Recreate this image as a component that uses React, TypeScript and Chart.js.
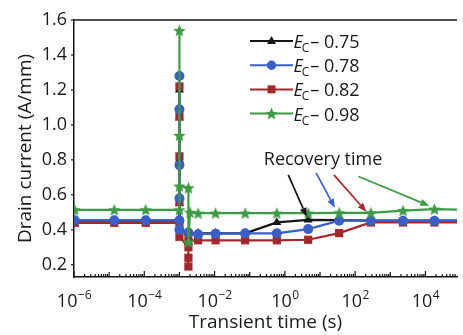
import React, { useEffect, useRef } from 'react';
import { Chart, registerables } from 'chart.js';

Chart.register(...registerables);

// ---------- data ----------
const seriesNames = ['0.75', '0.78', '0.82', '0.98'];
const seriesColors = ['#161616', '#3b5fc6', '#a3282c', '#3f9a46'];

const blackT = [1.05e-6, 1.4e-5, 1.1e-4, 1e-3, 1e-3, 1e-3, 1e-3, 1e-3, 1e-3, 1.8e-3, 3.4e-3, 1.07e-2, 7.4e-2, 0.59, 4.6, 35, 280, 2300, 1.8e4, 1.4e5];
const blackV = [0.452, 0.452, 0.452, 0.452, 1.2, 1.04, 0.8, 0.55, 0.4, 0.38, 0.38, 0.38, 0.38, 0.442, 0.457, 0.455, 0.452, 0.452, 0.452, 0.452];

const blueT = [1.05e-6, 1.4e-5, 1.1e-4, 1e-3, 1e-3, 1e-3, 1e-3, 1e-3, 1e-3, 1.8e-3, 3.4e-3, 1.07e-2, 7.4e-2, 0.59, 4.6, 35, 280, 2300, 1.8e4, 1.4e5];
const blueV = [0.455, 0.455, 0.455, 0.455, 1.28, 1.09, 0.77, 0.58, 0.4, 0.385, 0.375, 0.378, 0.38, 0.38, 0.404, 0.452, 0.452, 0.452, 0.452, 0.452];

const redT = [1.05e-6, 1.4e-5, 1.1e-4, 1e-3, 1e-3, 1e-3, 1e-3, 1e-3, 1e-3, 1.8e-3, 1.8e-3, 1.8e-3, 1.8e-3, 3.4e-3, 1.07e-2, 7.4e-2, 0.59, 4.6, 35, 280, 2300, 1.8e4, 1.4e5];
const redV = [0.44, 0.44, 0.44, 0.44, 1.22, 1.05, 0.82, 0.56, 0.36, 0.3, 0.24, 0.19, 0.34, 0.34, 0.34, 0.34, 0.34, 0.343, 0.381, 0.442, 0.442, 0.442, 0.442];

const greenT = [1.05e-6, 1.4e-5, 1.1e-4, 1e-3, 1e-3, 1e-3, 1e-3, 1.8e-3, 1.8e-3, 2.0e-3, 3.4e-3, 1.07e-2, 7.4e-2, 0.59, 4.6, 35, 280, 2300, 1.8e4, 1.4e5];
const greenV = [0.514, 0.514, 0.514, 0.514, 1.54, 0.94, 0.65, 0.64, 0.33, 0.5, 0.495, 0.495, 0.495, 0.495, 0.495, 0.497, 0.497, 0.51, 0.518, 0.515];

const xTickValues = [1e-6, 1e-4, 1e-2, 1, 1e2, 1e4];
const xTickExponents = ['\u22126', '\u22124', '\u22122', '0', '2', '4'];
const yTickValues = [0.2, 0.4, 0.6, 0.8, 1.0, 1.2, 1.4, 1.6];

const arrowStartT = [1.25, 7.8, 24.8, 124];
const arrowStartV = [0.714, 0.724, 0.714, 0.705];
const arrowEndT = [4.2, 26.5, 209, 12900];
const arrowEndV = [0.474, 0.526, 0.503, 0.537];

const noteText = 'Recovery time';
const noteT = 12.2;
const noteV = 0.8;

const xTitle = 'Transient time (s)';
const yTitle = 'Drain current (A/mm)';

// ---------- styling helpers ----------
const FONT = "'Open Sans', 'Noto Sans', sans-serif";
const TEXT = '#1a1a1a';

function makeStar(color: string, size: number) {
  const c = document.createElement('canvas');
  c.width = size;
  c.height = size;
  const ctx = c.getContext('2d')!;
  const cx = size / 2, cy = size / 2 + 0.5, R = size / 2, r = R * 0.45;
  ctx.beginPath();
  for (let i = 0; i < 10; i++) {
    const ang = -Math.PI / 2 + (i * Math.PI) / 5;
    const rad = i % 2 ? r : R;
    ctx.lineTo(cx + rad * Math.cos(ang), cy + rad * Math.sin(ang));
  }
  ctx.closePath();
  ctx.fillStyle = color;
  ctx.fill();
  return c;
}

function drawMarker(ctx: CanvasRenderingContext2D, style: any, x: number, y: number, color: string) {
  ctx.fillStyle = color;
  if (style === 'triangle') {
    ctx.beginPath();
    ctx.moveTo(x, y - 5);
    ctx.lineTo(x + 4.5, y + 3);
    ctx.lineTo(x - 4.5, y + 3);
    ctx.closePath();
    ctx.fill();
  } else if (style === 'circle') {
    ctx.beginPath();
    ctx.arc(x, y, 4.7, 0, Math.PI * 2);
    ctx.fill();
  } else if (style === 'rect') {
    ctx.fillRect(x - 4, y - 4, 8, 8);
  } else if (style instanceof HTMLCanvasElement) {
    ctx.drawImage(style, x - style.width / 2, y - style.height / 2);
  }
}

function arrow(ctx: CanvasRenderingContext2D, x1: number, y1: number, x2: number, y2: number, color: string) {
  const ang = Math.atan2(y2 - y1, x2 - x1);
  const hl = 9, hw = 3.5;
  const bx = x2 - hl * Math.cos(ang), by = y2 - hl * Math.sin(ang);
  ctx.strokeStyle = color;
  ctx.fillStyle = color;
  ctx.lineWidth = 1.7;
  ctx.beginPath();
  ctx.moveTo(x1, y1);
  ctx.lineTo(bx, by);
  ctx.stroke();
  ctx.beginPath();
  ctx.moveTo(x2, y2);
  ctx.lineTo(bx + hw * Math.sin(ang), by - hw * Math.cos(ang));
  ctx.lineTo(bx - hw * Math.sin(ang), by + hw * Math.cos(ang));
  ctx.closePath();
  ctx.fill();
}

export default function App() {
  const ref = useRef<HTMLCanvasElement | null>(null);

  useEffect(() => {
    if (!ref.current) return;
    const star = makeStar(seriesColors[3], 13);
    const styles: any[] = ['triangle', 'circle', 'rect', star];
    const times = [blackT, blueT, redT, greenT];
    const values = [blackV, blueV, redV, greenV];
    const radii = [5.2, 5, 5.8, 6];
    const orders = [3, 1, 2, 0];

    const datasets = seriesNames.map((name, i) => ({
      label: name,
      data: times[i].map((t, j) => ({ x: t, y: values[i][j] })),
      showLine: true,
      borderColor: seriesColors[i],
      backgroundColor: seriesColors[i],
      borderWidth: 2.2,
      pointStyle: styles[i],
      pointRadius: radii[i],
      pointBorderWidth: 0,
      pointBackgroundColor: seriesColors[i],
      tension: 0,
      order: orders[i],
    }));

    const overlay = {
      id: 'overlay',
      afterDraw(chart: any) {
        const { ctx, chartArea: a, scales } = chart;
        const xs = scales.x, ys = scales.y;
        ctx.save();
        ctx.strokeStyle = '#111';
        ctx.lineWidth = 1.5;
        // top frame line
        ctx.beginPath();
        ctx.moveTo(a.left, a.top);
        ctx.lineTo(a.right, a.top);
        ctx.stroke();
        // x ticks (inward)
        ctx.lineWidth = 1.2;
        for (let e = -6; e <= 5; e++) {
          for (let m = 1; m <= 9; m++) {
            const v = m * Math.pow(10, e);
            if (v < xs.min || v > xs.max) continue;
            const px = xs.getPixelForValue(v);
            const len = m === 1 ? (e % 2 === 0 ? 6 : 5) : 3;
            ctx.beginPath();
            ctx.moveTo(px, a.bottom);
            ctx.lineTo(px, a.bottom - len);
            ctx.stroke();
          }
        }
        // y ticks (outward)
        for (const v of yTickValues) {
          const py = ys.getPixelForValue(v);
          ctx.beginPath();
          ctx.moveTo(a.left, py);
          ctx.lineTo(a.left - 3, py);
          ctx.stroke();
        }
        // x tick labels with superscripts
        ctx.fillStyle = TEXT;
        ctx.textBaseline = 'alphabetic';
        ctx.textAlign = 'left';
        xTickValues.forEach((v, i) => {
          const px = xs.getPixelForValue(v);
          ctx.font = `18px ${FONT}`;
          const wb = ctx.measureText('10').width;
          ctx.font = `12px ${FONT}`;
          const we = ctx.measureText(xTickExponents[i]).width;
          const x0 = px - (wb + we) / 2;
          ctx.font = `18px ${FONT}`;
          ctx.fillText('10', x0, a.bottom + 30);
          ctx.font = `12px ${FONT}`;
          ctx.fillText(xTickExponents[i], x0 + wb + 0.5, a.bottom + 22);
        });
        // annotation text + arrows
        ctx.font = `18px ${FONT}`;
        ctx.textAlign = 'center';
        ctx.textBaseline = 'middle';
        ctx.fillStyle = TEXT;
        ctx.fillText(noteText, xs.getPixelForValue(noteT), ys.getPixelForValue(noteV));
        for (let i = 0; i < 4; i++) {
          arrow(
            ctx,
            xs.getPixelForValue(arrowStartT[i]), ys.getPixelForValue(arrowStartV[i]),
            xs.getPixelForValue(arrowEndT[i]), ys.getPixelForValue(arrowEndV[i]),
            seriesColors[i]
          );
        }
        // legend
        const lx0 = a.left + 176, lx1 = a.left + 219, ly0 = a.top + 21, dy = 24.2;
        for (let i = 0; i < 4; i++) {
          const yy = ly0 + i * dy;
          ctx.strokeStyle = seriesColors[i];
          ctx.lineWidth = 2;
          ctx.beginPath();
          ctx.moveTo(lx0, yy);
          ctx.lineTo(lx1, yy);
          ctx.stroke();
          drawMarker(ctx, styles[i], (lx0 + lx1) / 2, yy, seriesColors[i]);
          ctx.fillStyle = TEXT;
          ctx.textAlign = 'left';
          ctx.textBaseline = 'alphabetic';
          let tx = lx1 + 0.5;
          const base = yy + 7;
          ctx.font = `italic 18px ${FONT}`;
          ctx.fillText('E', tx, base);
          tx += ctx.measureText('E').width - 1;
          ctx.font = `12px ${FONT}`;
          ctx.fillText('C', tx, base + 4);
          tx += ctx.measureText('C').width + 1;
          ctx.font = `18px ${FONT}`;
          ctx.fillText('\u2013 ' + seriesNames[i], tx, base);
        }
        ctx.restore();
      },
    };

    const chart = new Chart(ref.current, {
      type: 'scatter',
      data: { datasets: datasets as any },
      options: {
        animation: false,
        responsive: false,
        devicePixelRatio: 1,
        layout: { padding: { top: 20, right: 0, left: 0, bottom: 0 } },
        plugins: { legend: { display: false }, tooltip: { enabled: false } },
        scales: {
          x: {
            type: 'logarithmic',
            min: 1e-6,
            max: 7.9e4,
            afterBuildTicks: (s: any) => {
              s.ticks = xTickValues.map((v) => ({ value: v }));
            },
            afterFit: (s: any) => {
              s.height = 58;
            },
            ticks: { display: false },
            grid: { drawOnChartArea: false, drawTicks: false },
            border: { display: true, color: '#111', width: 1.5 },
            title: {
              display: true,
              text: xTitle,
              color: TEXT,
              font: { family: FONT, size: 19 },
              padding: { top: 0, bottom: 1 },
            },
          },
          y: {
            type: 'linear',
            min: 0.13,
            max: 1.6,
            afterBuildTicks: (s: any) => {
              s.ticks = yTickValues.map((v) => ({ value: v }));
            },
            afterFit: (s: any) => {
              s.width = 74;
            },
            ticks: {
              callback: (v: any) => Number(v).toFixed(1),
              color: TEXT,
              font: { family: FONT, size: 18 },
              padding: 7,
            },
            grid: { drawOnChartArea: false, drawTicks: false },
            border: { display: true, color: '#111', width: 1.5 },
            title: {
              display: true,
              text: yTitle,
              color: TEXT,
              font: { family: FONT, size: 19 },
              padding: { top: 14, bottom: 0 },
            },
          },
        },
      },
      plugins: [overlay],
    });
    return () => chart.destroy();
  }, []);

  return (
    <div style={{ position: 'fixed', left: 0, top: 0, width: 463, height: 335, background: '#fff' }}>
      <canvas ref={ref} width={463} height={335} style={{ display: 'block' }} />
    </div>
  );
}
